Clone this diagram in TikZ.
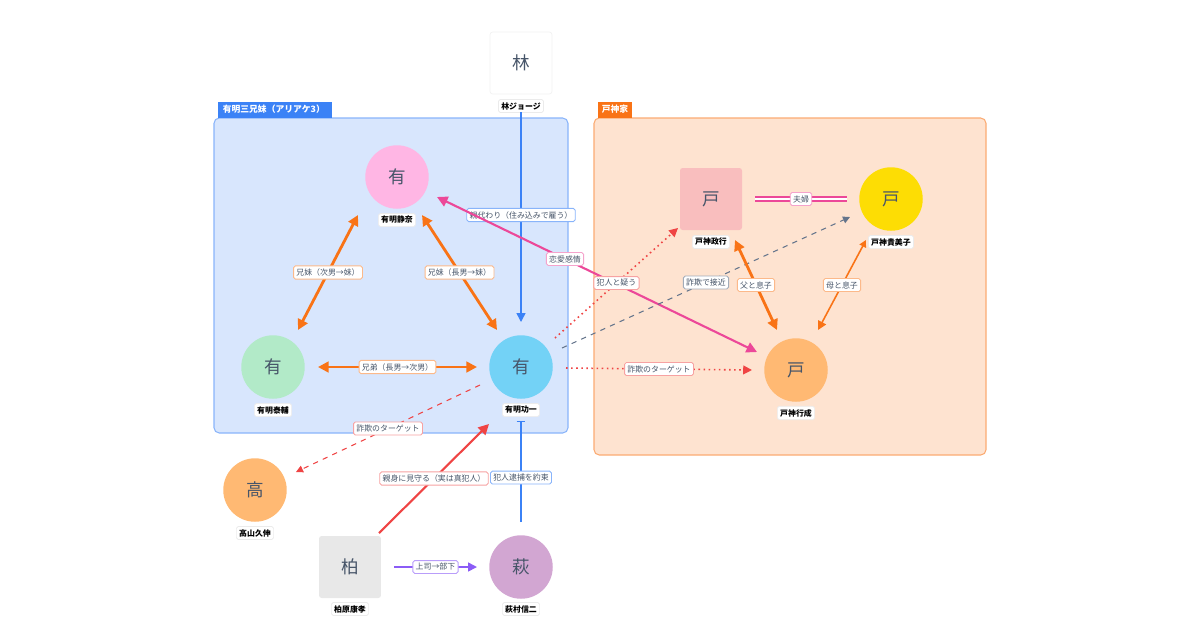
\documentclass[tikz,border=0pt]{standalone}
\usepackage{fontspec}
\setmainfont{Noto Sans CJK JP}
\usetikzlibrary{arrows.meta}
\definecolor{tx}{HTML}{475569}
\definecolor{blu}{HTML}{3B82F6}
\definecolor{org}{HTML}{F97316}
\definecolor{pnk}{HTML}{EC4899}
\definecolor{red}{HTML}{EF4444}
\definecolor{gry}{HTML}{64748B}
\definecolor{pur}{HTML}{8B5CF6}
\tikzset{
 px/.style={x=0.02cm,y=-0.02cm},
 circ/.style={circle,minimum size=1.27cm,inner sep=0pt,font=\fontsize{10}{10}\selectfont,text=tx},
 sq/.style={rectangle,rounded corners=1.5pt,minimum size=1.24cm,inner sep=0pt,font=\fontsize{10}{10}\selectfont,text=tx},
 nm/.style={fill=white,rounded corners=1pt,font=\fontsize{4.5}{5}\selectfont\bfseries,inner sep=1.6pt,draw=black!8},
 lb/.style={fill=white,rounded corners=1pt,font=\fontsize{4.5}{5}\selectfont,text=tx,inner sep=1.6pt,draw=#1,line width=0.5pt},
 e/.style={line width=#1, -{Triangle[length=5pt,width=5pt]}},
 ee/.style={line width=#1, {Triangle[length=6pt,width=6pt]}-{Triangle[length=6pt,width=6pt]}},
}
\begin{document}
\begin{tikzpicture}[px]
\useasboundingbox (0,0) rectangle (1200,630);
% groups
\draw[fill=blu!20,draw=blu!60,line width=0.6pt,rounded corners=3pt] (214,118) rectangle (568,433);
\node[fill=blu,text=white,anchor=south west,font=\fontsize{5}{6}\selectfont\bfseries,minimum width=2.28cm,minimum height=0.32cm,inner sep=1pt,text width=2.1cm] (tabA) at (218,118) {有明三兄妹（アリアケ3）};
\draw[fill=org!20,draw=org!60,line width=0.6pt,rounded corners=3pt] (594,118) rectangle (986,455);
\node[fill=org,text=white,anchor=south west,font=\fontsize{5}{6}\selectfont\bfseries,minimum height=0.32cm,inner sep=2pt] (tabB) at (598,118) {戸神家};
% nodes
\node[sq,fill=white,draw=black!5] (hay) at (521,63) {林};
\node[nm] (hayn) at (521,106) {林ジョージ};
\node[circ,fill=pink!70!magenta!60] (shi) at (397,177) {有};
\node[nm] (shin) at (397,220) {有明静奈};
\node[circ,fill=green!45!teal!30] (tai) at (273,367) {有};
\node[nm] (tain) at (273,410) {有明泰輔};
\node[circ,fill=cyan!55] (koi) at (521,367) {有};
\node[nm] (koin) at (521,410) {有明功一};
\node[sq,fill=red!35] (mas) at (711,199) {戸};
\node[nm] (masn) at (711,242) {戸神政行};
\node[circ,fill=yellow!80!orange] (kim) at (891,199) {戸};
\node[nm] (kimn) at (891,242) {戸神貴美子};
\node[circ,fill=orange!55] (yuk) at (796,370) {戸};
\node[nm] (yukn) at (796,413) {戸神行成};
\node[circ,fill=orange!55] (tak) at (255,490) {高};
\node[nm] (takn) at (255,533) {高山久伸};
\node[sq,fill=gray!18] (kas) at (350,567) {柏};
\node[nm] (kasn) at (350,609) {柏原康孝};
\node[circ,fill=violet!35] (hag) at (521,567) {萩};
\node[nm] (hagn) at (521,609) {萩村信二};
% coordinates
\coordinate (a1) at (521,112); \coordinate (a2) at (521,322);
\coordinate (b1) at (521,522); \coordinate (b2) at (521,421);
\coordinate (s1) at (358,215); \coordinate (s2) at (298,330);
\coordinate (s3) at (422,215); \coordinate (s4) at (497,330);
\coordinate (t1) at (318,367); \coordinate (t2) at (477,367);
\coordinate (p1) at (437,197); \coordinate (p2) at (757,352);
\coordinate (r1) at (555,338); \coordinate (r2) at (678,228);
\coordinate (g1) at (562,348); \coordinate (g2) at (850,217);
\coordinate (q1) at (566,368); \coordinate (q2) at (752,370);
\coordinate (h1) at (480,385); \coordinate (h2) at (296,472);
\coordinate (k1) at (379,533); \coordinate (k2) at (489,424);
\coordinate (u1) at (394,567); \coordinate (u2) at (477,567);
\coordinate (f1) at (735,240); \coordinate (f2) at (777,330);
\coordinate (m1) at (866,240); \coordinate (m2) at (818,330);
\coordinate (w1) at (755,199); \coordinate (w2) at (847,199);
% edges
\draw[e=0.8pt,blu] (a1) -- (a2);
\node[lb=blu!60] (la) at (521,215) {親代わり（住み込みで雇う）};
\draw[blu,line width=0.8pt,-{Bar[width=5pt]}] (b1) -- (b2) node[lb=blu!60,pos=0.44] (lb) {犯人逮捕を約束};
\draw[ee=1.6pt,org] (s1) -- (s2) node[lb=org!50,midway] (ls1) {兄妹（次男→妹）};
\draw[ee=1.6pt,org] (s3) -- (s4) node[lb=org!50,midway] (ls2) {兄妹（長男→妹）};
\draw[ee=1.6pt,org] (t1) -- (t2) node[lb=org!50,midway] (lt) {兄弟（長男→次男）};
\draw[pnk,line width=1.2pt,{Triangle[length=6pt,width=6pt]}-{Triangle[length=6pt,width=6pt]}] (p1) -- (p2) node[lb=pnk!50,pos=0.4] (lp) {恋愛感情};
\draw[red,line width=0.9pt,dotted,e=0.9pt] (r1) -- (r2) node[lb=red!50,solid,midway] (lr) {犯人と疑う};
\draw[gry,line width=0.6pt,dashed,-{Triangle[length=4pt,width=4pt]}] (g1) -- (g2) node[lb=gry!60,solid,pos=0.5] (lg) {詐欺で接近};
\draw[red,line width=0.9pt,dotted,e=0.9pt] (q1) -- (q2) node[lb=red!50,solid,pos=0.5] (lq) {詐欺のターゲット};
\draw[red,line width=0.6pt,dashed,-{Triangle[length=4pt,width=4pt]}] (h1) -- (h2) node[lb=red!50,solid,pos=0.5] (lh) {詐欺のターゲット};
\draw[red,line width=1.2pt,-{Triangle[length=6pt,width=6pt]}] (k1) -- (k2) node[lb=red!50,pos=0.5] (lk) {親身に見守る（実は真犯人）};
\draw[pur,line width=0.9pt,-{Triangle[length=5pt,width=5pt]}] (u1) -- (u2) node[lb=pur!60,midway] (lu) {上司→部下};
\draw[ee=1.6pt,org] (f1) -- (f2) node[lb=org!50,midway] (lf) {父と息子};
\draw[org,line width=0.9pt,{Triangle[length=4pt,width=4pt]}-{Triangle[length=5pt,width=5pt]}] (m1) -- (m2) node[lb=org!50,midway] (lm) {母と息子};
\draw[pnk,line width=3pt] (w1) -- (w2);
\draw[white,line width=0.9pt] (w1) -- (w2) node[lb=pnk!50,midway] (lw) {夫婦};
\end{tikzpicture}
\end{document}
